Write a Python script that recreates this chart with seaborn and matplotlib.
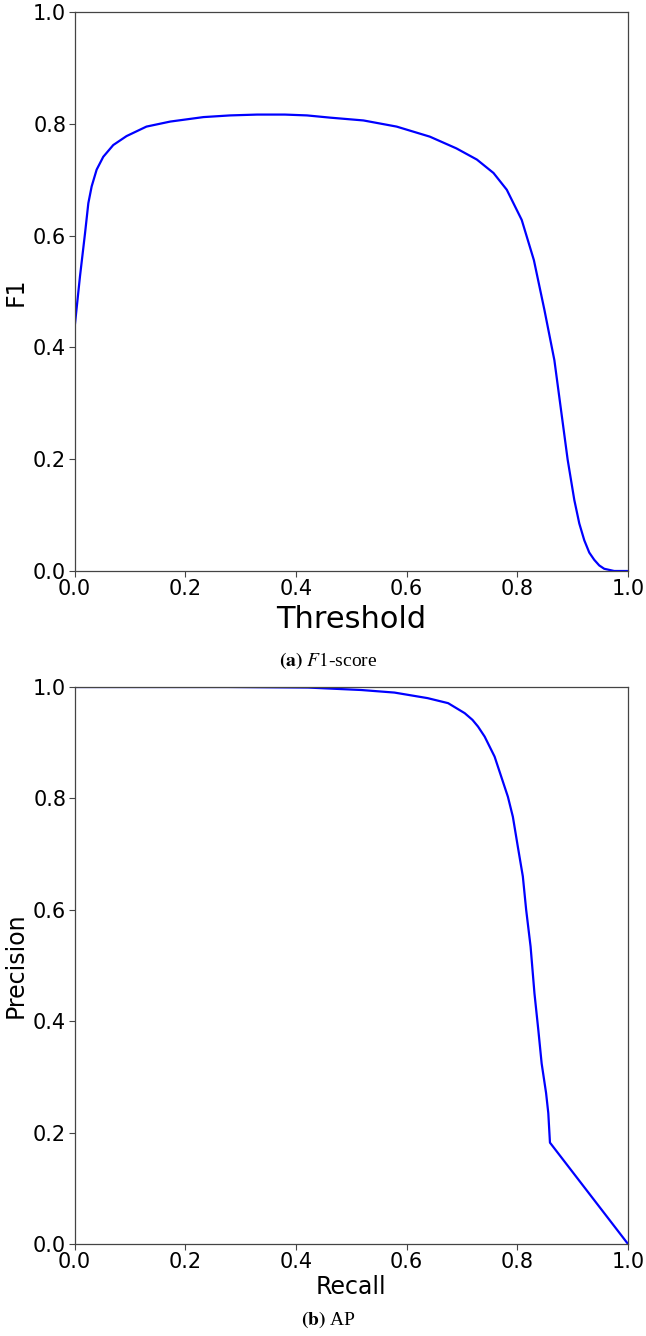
import matplotlib
matplotlib.use("Agg")
import matplotlib.pyplot as plt
import seaborn as sns
import pandas as pd

# F1 vs threshold
threshold = [0.0, 0.0099, 0.019, 0.025, 0.031, 0.040, 0.052, 0.070, 0.094, 0.130,
             0.173, 0.233, 0.281, 0.33, 0.38, 0.42, 0.462, 0.522, 0.582, 0.642,
             0.690, 0.727, 0.757, 0.781, 0.799, 0.808, 0.83, 0.849, 0.867, 0.879,
             0.891, 0.903, 0.912, 0.921, 0.93, 0.939, 0.948, 0.957, 0.975, 1.0]
f1 = [0.434, 0.527, 0.604, 0.658, 0.688, 0.718, 0.741, 0.762, 0.778, 0.795,
      0.804, 0.812, 0.815, 0.8165, 0.8165, 0.815, 0.811, 0.806, 0.795, 0.777,
      0.756, 0.736, 0.712, 0.682, 0.646, 0.628, 0.556, 0.467, 0.377, 0.288,
      0.199, 0.127, 0.085, 0.055, 0.033, 0.02, 0.01, 0.004, 0.0, 0.0]

# precision-recall curve
recall = [0.0, 0.1, 0.2, 0.277, 0.422, 0.518, 0.578, 0.638, 0.675, 0.705, 0.719,
          0.729, 0.741, 0.759, 0.771, 0.783, 0.792, 0.801, 0.81, 0.816, 0.824,
          0.831, 0.838, 0.844, 0.852, 0.856, 0.859, 1.0]
precision = [1.0, 1.0, 1.0, 1.0, 0.999, 0.9946, 0.99, 0.98, 0.971, 0.953, 0.941,
             0.929, 0.911, 0.875, 0.839, 0.803, 0.767, 0.713, 0.66, 0.6, 0.534,
             0.45, 0.384, 0.324, 0.271, 0.235, 0.182, 0.0]

df_f1 = pd.DataFrame({"Threshold": threshold, "F1": f1})
df_pr = pd.DataFrame({"Recall": recall, "Precision": precision})

sns.set_style("ticks")
plt.rcParams["font.family"] = ["DejaVu Sans"]
plt.rcParams["mathtext.fontset"] = "stix"
plt.rcParams["text.color"] = "black"
plt.rcParams["axes.labelcolor"] = "black"
plt.rcParams["xtick.color"] = "black"
plt.rcParams["ytick.color"] = "black"

W, H = 646, 1336
fig = plt.figure(figsize=(W / 100, H / 100), dpi=100)
ax1 = fig.add_axes([74.5 / W, 1 - 571 / H, 553.5 / W, 559 / H])
ax2 = fig.add_axes([74.5 / W, 1 - 1244 / H, 553.5 / W, 557 / H])

sns.lineplot(data=df_f1, x="Threshold", y="F1", ax=ax1, color="#0000ff", linewidth=1.6)
sns.lineplot(data=df_pr, x="Recall", y="Precision", ax=ax2, color="#0000ff", linewidth=1.6)

ticks = [0.0, 0.2, 0.4, 0.6, 0.8, 1.0]
for ax in (ax1, ax2):
    ax.set_xlim(0, 1)
    ax.set_ylim(0, 1)
    ax.set_xticks(ticks)
    ax.set_yticks(ticks)
    ax.tick_params(labelsize=15, length=4, width=0.8, color="#444444", pad=2)
    for s in ax.spines.values():
        s.set_visible(True)
        s.set_color("#444444")
        s.set_linewidth(0.9)

ax1.set_xlabel("Threshold", fontsize=22, labelpad=4)
ax1.set_ylabel("F1", fontsize=17, labelpad=4)
ax2.set_xlabel("Recall", fontsize=17, labelpad=2)
ax2.set_ylabel("Precision", fontsize=17, labelpad=4)

cap = dict(ha="center", va="center", fontsize=14, family="Liberation Serif", color="black")
fig.text(0.508, 1 - 661 / H, r"$\mathbf{(a)}$ $F1$-score", **cap)
fig.text(0.508, 1 - 1320 / H, r"$\mathbf{(b)}$ AP", **cap)

fig.savefig("out.png", dpi=100)
